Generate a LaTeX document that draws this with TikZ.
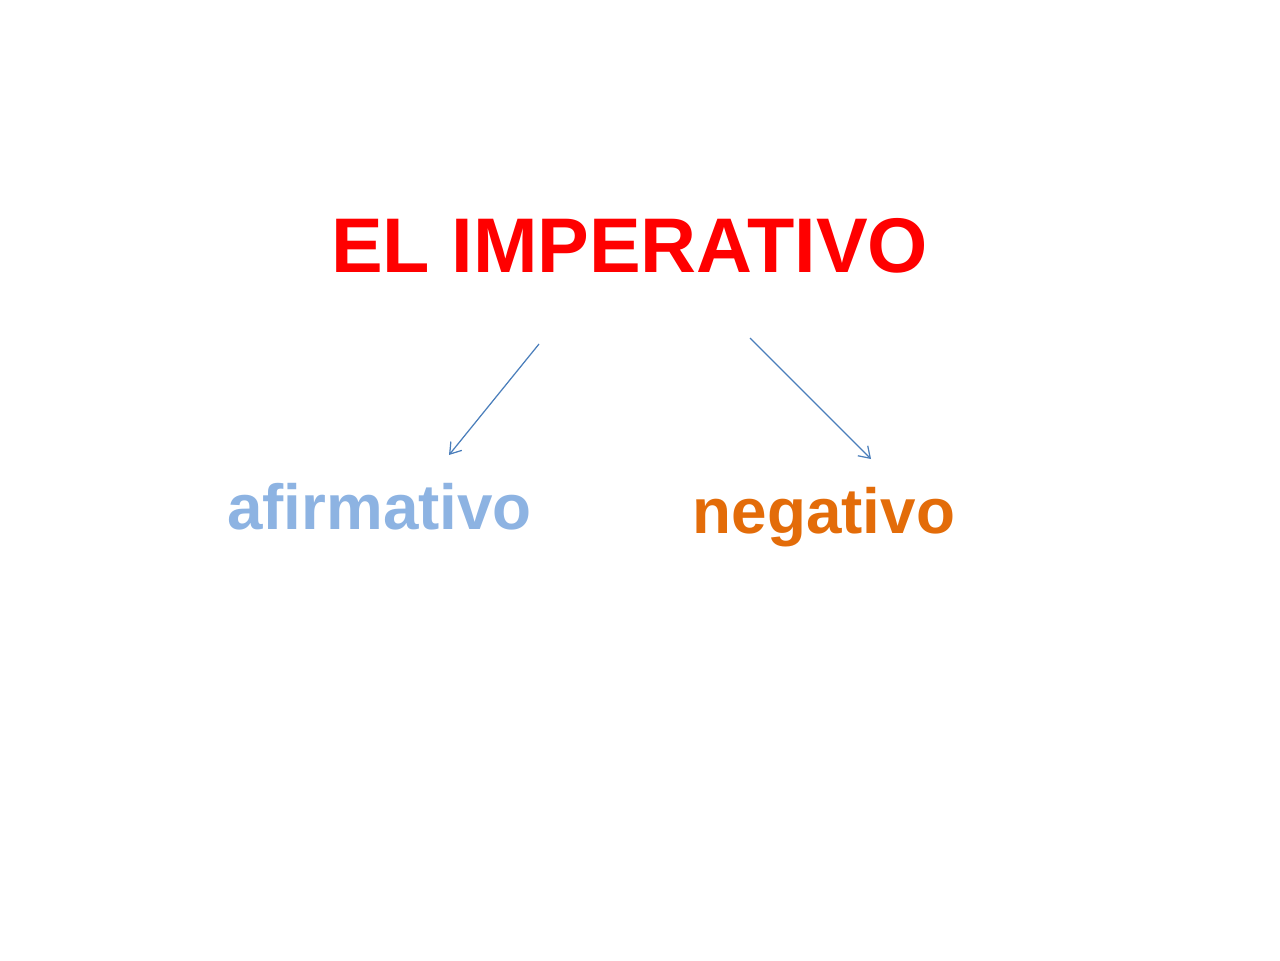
\documentclass[tikz,border=0pt]{standalone}
\usepackage{fontspec}
\setmainfont{Liberation Sans}
\usetikzlibrary{arrows.meta}
\definecolor{titlered}{HTML}{FF0000}
\definecolor{afblue}{HTML}{8DB3E2}
\definecolor{negorange}{HTML}{E36C09}
\definecolor{arrowblue}{HTML}{4A7EBB}
\begin{document}
\begin{tikzpicture}[x=0.02cm, y=-0.02cm,
word/.style={anchor=base, inner sep=0, font=\bfseries},
branch/.style={arrowblue, line width=0.7pt, -{Straight Barb[length=6pt, width=8pt]}}]
%%%%%%%%%%%%%%%%%%%%%%% SIZE OF THE SLIDE %%%%%%%%%%%%%%%%%%%%%%%
\useasboundingbox (0,0) rectangle (1280,960);
%%%%%%%% TEXT %%%%%%%%%%%%%
\node[word, text=titlered, font=\fontsize{44.1}{50}\selectfont\bfseries] (Title) at (629.5,272) {EL IMPERATIVO};
\node[word, text=afblue, font=\fontsize{36.3}{42}\selectfont\bfseries] (Afirm) at (379.5,529) {afirmativo};
\node[word, text=negorange, font=\fontsize{36.3}{42}\selectfont\bfseries] (Neg) at (824,533) {negativo};
%%%%%%%%%%%%%
% ARROWS %%%%
%%%%%%%%%%%%%
\coordinate (AfirmStart) at (539,344);
\coordinate (AfirmEnd) at (449,455);
\coordinate (NegStart) at (750,338);
\coordinate (NegEnd) at (871,459);
\draw[branch] (AfirmStart)--(AfirmEnd);
\draw[branch] (NegStart)--(NegEnd);
\end{tikzpicture}
\end{document}
